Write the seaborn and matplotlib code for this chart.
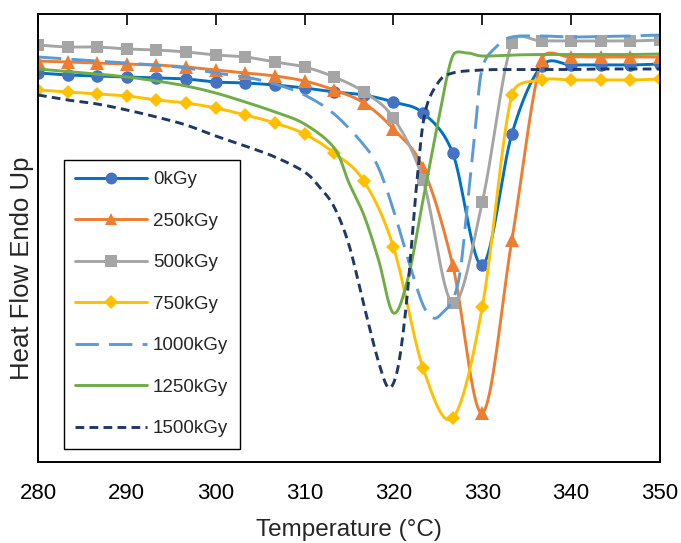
import numpy as np
import pandas as pd
import matplotlib
matplotlib.use("Agg")
import matplotlib.pyplot as plt
from matplotlib.lines import Line2D
import seaborn as sns

# ---------------- data ----------------
temp_marked = [280, 283.33, 286.67, 290, 293.33, 296.67, 300, 303.33, 306.67, 310, 313.33,
               316.67, 320, 323.33, 326.67, 330, 333.33, 336.67, 340, 343.33, 346.67, 350]

hf_0 = [3.89, 3.87, 3.86, 3.85, 3.84, 3.83, 3.80, 3.79, 3.77, 3.74, 3.70,
        3.67, 3.60, 3.49, 3.09, 1.97, 3.28, 3.96, 3.97, 3.97, 3.97, 3.98]
hf_250 = [4.01, 4.00, 3.99, 3.98, 3.97, 3.95, 3.92, 3.89, 3.86, 3.81, 3.72,
          3.59, 3.33, 2.94, 1.97, 0.49, 2.22, 4.02, 4.05, 4.05, 4.05, 4.05]
hf_500 = [4.17, 4.15, 4.15, 4.13, 4.12, 4.10, 4.07, 4.05, 4.00, 3.95, 3.85,
          3.70, 3.44, 2.82, 1.59, 2.60, 4.19, 4.21, 4.21, 4.21, 4.21, 4.22]
hf_750 = [3.72, 3.70, 3.68, 3.66, 3.62, 3.59, 3.54, 3.47, 3.39, 3.28, 3.09,
          2.81, 2.15, 0.94, 0.44, 1.55, 3.67, 3.82, 3.82, 3.82, 3.82, 3.83]

temp_1000 = [280, 283.33, 286.67, 290, 293.33, 296.67, 300, 303.33, 306.67, 310, 313.33, 316.67,
             318.33, 320, 321.67, 323.33, 324.5, 325.5, 326.67, 327.5, 328.33, 329.17, 330,
             331.67, 333.33, 336.67, 340, 343.33, 346.67, 350]
hf_1000 = [4.05, 4.03, 4.01, 3.99, 3.97, 3.94, 3.89, 3.85, 3.78, 3.67, 3.48, 3.17,
           2.94, 2.52, 2.02, 1.57, 1.44, 1.49, 1.62, 1.90, 2.57, 3.29, 3.94,
           4.16, 4.25, 4.26, 4.25, 4.255, 4.26, 4.27]

temp_1250 = [280, 283.33, 286.67, 290, 293.33, 296.67, 300, 303.33, 306.67, 310, 313.33,
             315, 316.67, 318.33, 320, 321.67, 323.33, 325, 326.67, 328.33, 330,
             333.33, 336.67, 340, 343.33, 346.67, 350]
hf_1250 = [3.93, 3.905, 3.88, 3.85, 3.81, 3.76, 3.69, 3.60, 3.50, 3.38, 3.14,
           2.79, 2.47, 2.02, 1.49, 1.85, 2.62, 3.39, 4.06, 4.09, 4.06,
           4.07, 4.075, 4.075, 4.075, 4.075, 4.08]

temp_1500 = [280, 283.33, 286.67, 290, 293.33, 296.67, 300, 303.33, 306.67, 310, 311.67,
             313.33, 315, 316.67, 318.33, 319.5, 320.5, 321.5, 322.5, 323.5, 325, 326.67,
             330, 333.33, 336.67, 340, 343.33, 346.67, 350]
hf_1500 = [3.67, 3.62, 3.58, 3.52, 3.45, 3.37, 3.26, 3.16, 3.05, 2.90, 2.75,
           2.55, 2.17, 1.57, 1.00, 0.74, 0.94, 1.62, 2.67, 3.47, 3.79, 3.89,
           3.92, 3.925, 3.925, 3.925, 3.93, 3.93, 3.93]

labels = ["0kGy", "250kGy", "500kGy", "750kGy", "1000kGy", "1250kGy", "1500kGy"]
x_ticks = [280, 290, 300, 310, 320, 330, 340, 350]
x_label = "Temperature (°C)"
y_label = "Heat Flow Endo Up"

XMIN, XMAX, YMIN, YMAX = 280, 350, 0, 4.48
AX_W_PX, AX_H_PX = 622, 448

# ---------------- helpers ----------------
def smooth(x, y, n=30):
    """Excel-like smoothed line: Bezier segments through the points, control arms
    (P2-P0)/6 limited to half the segment length (computed in screen space)."""
    sx = AX_W_PX / (XMAX - XMIN)
    sy = AX_H_PX / (YMAX - YMIN)
    P = np.column_stack([(np.asarray(x, float) - XMIN) * sx, (np.asarray(y, float) - YMIN) * sy])
    Q = np.vstack([P[0], P, P[-1]])
    t = np.linspace(0, 1, n, endpoint=False)[:, None]
    out = []
    for i in range(1, len(Q) - 2):
        p0, p1, p2, p3 = Q[i - 1], Q[i], Q[i + 1], Q[i + 2]
        d12 = np.linalg.norm(p2 - p1)
        a1 = (p2 - p0) / 6.0
        a2 = (p3 - p1) / 6.0
        for a in (a1, a2):
            L = np.linalg.norm(a)
            if L > d12 / 2 and L > 0:
                a *= (d12 / 2) / L
        c1 = p1 + a1
        c2 = p2 - a2
        seg = ((1 - t) ** 3) * p1 + 3 * ((1 - t) ** 2) * t * c1 + 3 * (1 - t) * t ** 2 * c2 + t ** 3 * p2
        out.append(seg)
    out.append(Q[-2][None, :])
    out = np.vstack(out)
    return out[:, 0] / sx + XMIN, out[:, 1] / sy + YMIN

sns.set_style("white")
plt.rcParams['font.family'] = ['Liberation Sans', 'DejaVu Sans']

fig = plt.figure(figsize=(6.81, 5.43), dpi=100)
ax = fig.add_axes([38 / 681, 1 - 462 / 543, AX_W_PX / 681, AX_H_PX / 543])

series = [
    dict(x=temp_marked, y=hf_0, color="#0070C0", mcolor="#4472C4", marker="o", ms=9, dash=None),
    dict(x=temp_marked, y=hf_250, color="#ED7D31", mcolor="#ED7D31", marker="^", ms=9.5, dash=None),
    dict(x=temp_marked, y=hf_500, color="#A5A5A5", mcolor="#A5A5A5", marker="s", ms=8.5, dash=None),
    dict(x=temp_marked, y=hf_750, color="#FFC000", mcolor="#FFC000", marker="D", ms=7, dash=None),
    dict(x=temp_1000, y=hf_1000, color="#5B9BD5", mcolor=None, marker=None, ms=0, dash=(8, 3.5)),
    dict(x=temp_1250, y=hf_1250, color="#70AD47", mcolor=None, marker=None, ms=0, dash=None),
    dict(x=temp_1500, y=hf_1500, color="#203864", mcolor=None, marker=None, ms=0, dash=(3, 1.8)),
]

lw = 2.1
handles = []
for s, lab in zip(series, labels):
    sx_, sy_ = smooth(s["x"], s["y"])
    df = pd.DataFrame({"T": sx_, "HF": sy_})
    sns.lineplot(data=df, x="T", y="HF", sort=False, estimator=None, ax=ax,
                 color=s["color"], linewidth=lw, legend=False)
    line = ax.lines[-1]
    if s["dash"] is not None:
        line.set_dashes(s["dash"])
        line.set_dash_capstyle("butt")
    line.set_solid_capstyle("round")
    if s["marker"] is not None:
        ax.plot(s["x"], s["y"], linestyle="none", marker=s["marker"], ms=s["ms"],
                color=s["mcolor"], markeredgewidth=0)
    h = Line2D([0], [0], color=s["color"], lw=lw,
               marker=s["marker"] if s["marker"] else None,
               ms=s["ms"] * 0.95 if s["marker"] else 0,
               markerfacecolor=s["mcolor"], markeredgewidth=0)
    if s["dash"] is not None:
        h.set_dashes(s["dash"])
    handles.append(h)

ax.set_xlim(XMIN, XMAX)
ax.set_ylim(YMIN, YMAX)
ax.set_xticks(x_ticks)
ax.set_xticklabels([str(t) for t in x_ticks], fontsize=16)
ax.set_yticks([])
ax.tick_params(axis="x", bottom=False, top=True, direction="in", length=8, width=1.2,
               labelbottom=True, pad=15, colors="black")
ax.set_xlabel(x_label, fontsize=17.5, labelpad=11)
ax.set_ylabel("")
for sp in ax.spines.values():
    sp.set_visible(True)
    sp.set_color("black")
    sp.set_linewidth(1.4)

fig.text(22 / 681, 1 - 268 / 543, y_label, rotation=90, fontsize=18.5,
         ha="center", va="center")

leg = ax.legend(handles, labels, loc="upper left", bbox_to_anchor=(26 / 622, 302 / 448),
                borderaxespad=0, frameon=True, fancybox=False, fontsize=13.5,
                handlelength=3.8, labelspacing=1.3, handletextpad=0.35,
                borderpad=0.6, edgecolor="black")
leg.get_frame().set_linewidth(1.0)
leg.get_frame().set_alpha(1)

fig.savefig("out.png", dpi=100)
